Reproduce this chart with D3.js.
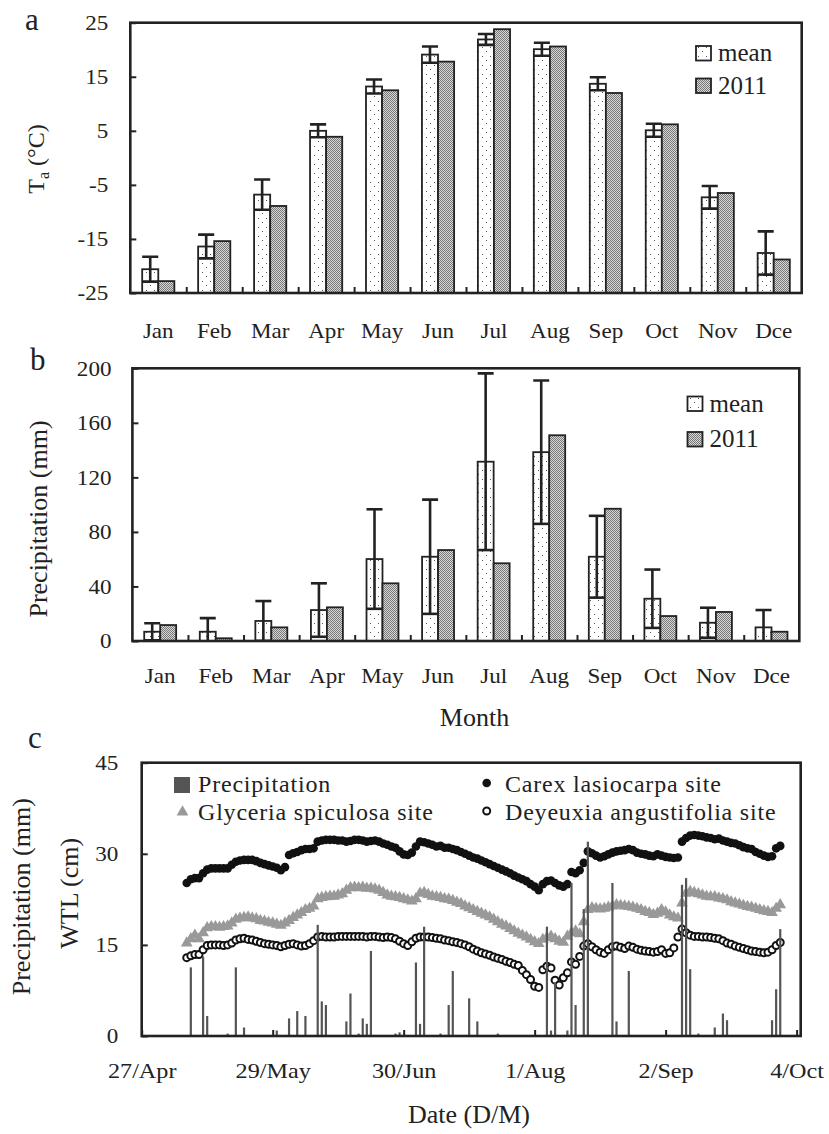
<!DOCTYPE html>
<html>
<head>
<meta charset="utf-8">
<script src="https://cdn.jsdelivr.net/npm/d3@7"></script>
<style>
  body { margin: 0; background: #fff; }
  svg text { font-family: "Liberation Serif", "DejaVu Serif", serif; }
</style>
</head>
<body>
<svg width="829" height="1134"></svg>
<script>
// ---- panel a / b : monthly values ----
const months = ["Jan", "Feb", "Mar", "Apr", "May", "Jun", "Jul", "Aug", "Sep", "Oct", "Nov", "Dce"];
const seriesNames = ["mean", "2011"];

const tempMean = [-20.6, -16.4, -6.8, 5.0, 13.2, 19.1, 21.9, 20.1, 13.7, 5.1, -7.3, -17.6];
const tempErr = [2.3, 2.2, 2.8, 1.2, 1.3, 1.5, 1.0, 1.2, 1.2, 1.2, 2.1, 4.0];
const temp2011 = [-22.8, -15.4, -8.9, 3.9, 12.5, 17.8, 23.8, 20.6, 12.0, 6.2, -6.5, -18.8];
const tempTicks = [-25, -15, -5, 5, 15, 25];

const precMean = [6.8, 6.8, 14.7, 22.7, 60.1, 61.8, 131.5, 138.5, 61.8, 31.0, 13.4, 10.0];
const precErr = [6.2, 10.0, 14.6, 19.6, 36.5, 41.9, 64.8, 52.6, 30.0, 21.4, 11.0, 12.7];
const prec2011 = [11.7, 2.0, 10.0, 24.7, 42.3, 66.7, 57.0, 150.9, 97.0, 18.3, 21.3, 6.8];
const precTicks = [0, 40, 80, 120, 160, 200];

// ---- panel c : daily water table level (cm), one value per day from wtlStart ----
const wtlStart = "2011-05-08";
const carex = [
  25.2, 25.8, 26.0, 26.0, 26.8, 27.4, 27.6, 27.6, 27.6, 27.6,
  27.6, 28.2, 28.7, 28.9, 29.0, 29.0, 29.0, 28.8, 28.5, 28.3,
  28.1, 27.9, 27.7, 27.3, 27.8, 29.8, 30.1, 30.3, 30.6, 30.8,
  30.8, 30.9, 32.0, 32.2, 32.3, 32.3, 32.3, 32.2, 32.2, 32.0,
  32.1, 32.3, 32.3, 32.2, 32.0, 32.1, 32.2, 32.0, 31.7, 31.5,
  31.2, 31.0, 30.4, 29.9, 29.8, 30.2, 31.2, 32.0, 31.9, 31.7,
  31.5, 31.2, 31.3, 31.0, 31.0, 30.8, 30.6, 30.3, 30.0, 29.7,
  29.4, 29.2, 28.9, 28.6, 28.3, 28.0, 27.7, 27.4, 27.1, 26.8,
  26.4, 26.1, 25.8, 25.5, 25.0, 24.6, 24.0, 25.0, 25.5, 25.6,
  25.2, 24.8, 24.6, 25.0, 27.0, 26.8, 27.3, 28.5, 30.4, 30.1,
  29.7, 29.4, 29.6, 29.9, 30.2, 30.4, 30.5, 30.6, 30.8, 30.6,
  30.2, 30.0, 29.9, 29.7, 29.6, 29.9, 29.7, 29.5, 29.4, 29.3,
  29.4, 32.0, 32.6, 33.0, 33.1, 33.0, 32.9, 32.7, 32.6, 32.4,
  32.5, 32.2, 32.0, 31.8, 31.7, 31.4, 31.1, 30.9, 30.8, 30.3,
  30.0, 29.7, 29.5, 29.6, 30.9, 31.3
];
const glyceria = [
  15.3, 16.0, 16.6, 16.0, 17.0, 17.8, 18.0, 18.0, 17.9, 18.0,
  18.1, 18.6, 19.2, 19.4, 19.5, 19.6, 19.4, 19.3, 19.0, 18.9,
  18.7, 18.6, 18.4, 18.2, 18.6, 19.0, 19.5, 19.9, 20.3, 20.8,
  21.0, 21.4, 22.6, 22.8, 22.9, 23.0, 23.0, 23.2, 23.4, 24.0,
  24.4, 24.5, 24.4, 24.5, 24.3, 24.3, 24.2, 24.0, 23.6, 23.2,
  23.0, 22.9, 22.8, 22.6, 22.4, 22.2, 22.6, 23.5, 23.6, 23.3,
  23.0, 22.9, 22.8, 22.6, 22.5, 22.3, 22.0, 21.8, 21.4, 21.1,
  20.8, 20.5, 20.2, 19.9, 19.6, 19.2, 18.8, 18.4, 18.1, 17.7,
  17.3, 16.9, 16.6, 16.3, 15.9, 15.5, 15.2, 15.9, 16.2, 16.4,
  16.0, 15.6, 15.4, 16.4, 17.0, 17.3, 16.8, 18.8, 20.8, 21.1,
  21.0, 20.9, 21.0, 21.2, 21.4, 21.6, 21.5, 21.4, 21.3, 21.2,
  21.0, 20.8, 20.5, 20.3, 20.0, 20.2, 20.8, 20.4, 19.9, 19.6,
  19.4, 21.9, 23.5, 23.8, 23.6, 23.4, 23.2, 23.0, 22.9, 22.9,
  22.7, 22.6, 22.4, 22.1, 21.9, 21.7, 21.5, 21.3, 21.2, 21.0,
  20.8, 20.6, 20.5, 20.3, 21.0, 21.6
];
const deyeuxia = [
  12.9, 13.2, 13.4, 13.4, 14.2, 14.9, 15.0, 15.0, 15.0, 14.9,
  15.0, 15.3, 15.8, 16.0, 16.1, 15.9, 15.8, 15.6, 15.4, 15.2,
  15.1, 15.0, 14.9, 14.7, 14.9, 15.1, 15.2, 15.0, 14.8, 14.9,
  15.2, 15.7, 16.3, 16.4, 16.3, 16.3, 16.3, 16.4, 16.4, 16.4,
  16.4, 16.4, 16.4, 16.4, 16.3, 16.4, 16.4, 16.3, 16.2, 16.3,
  16.2, 16.0, 15.6, 15.2, 14.9, 15.5, 16.1, 16.3, 16.3, 16.3,
  16.2, 16.1, 16.0, 15.8, 15.7, 15.5, 15.4, 15.2, 15.0, 14.7,
  14.3, 14.0, 13.7, 13.5, 13.3, 13.0, 12.8, 12.6, 12.3, 12.1,
  11.8, 11.6, 10.8, 10.1, 9.3, 8.2, 8.0, 10.9, 11.5, 11.2,
  9.2, 8.4, 9.6, 10.4, 12.2, 11.8, 13.1, 14.8, 15.2, 14.7,
  14.2, 13.8, 13.6, 14.2, 14.7, 14.8, 14.6, 14.4, 14.8, 14.6,
  14.3, 14.1, 14.0, 13.9, 13.8, 13.9, 14.2, 13.6, 13.7, 14.5,
  16.3, 17.6, 17.0, 16.6, 16.4, 16.4, 16.3, 16.3, 16.2, 16.1,
  16.0, 15.7, 15.3, 15.1, 14.8, 14.6, 14.4, 14.2, 14.0, 13.9,
  13.8, 13.7, 13.8, 14.2, 14.9, 15.4
];

// daily precipitation (mm), rain days only
const rainDates = [
  "2011-05-09", "2011-05-12", "2011-05-13", "2011-05-18", "2011-05-20", "2011-05-22", "2011-05-30",
  "2011-06-02", "2011-06-04", "2011-06-06", "2011-06-09", "2011-06-10", "2011-06-11", "2011-06-16",
  "2011-06-17", "2011-06-19", "2011-06-20", "2011-06-21", "2011-06-22", "2011-06-28", "2011-06-29",
  "2011-07-03", "2011-07-04", "2011-07-05", "2011-07-09", "2011-07-11", "2011-07-12", "2011-07-16",
  "2011-07-18", "2011-07-23", "2011-08-04", "2011-08-05", "2011-08-06", "2011-08-09", "2011-08-10",
  "2011-08-11", "2011-08-13", "2011-08-14", "2011-08-20", "2011-08-21", "2011-08-24", "2011-09-06",
  "2011-09-07", "2011-09-08", "2011-09-10", "2011-09-14", "2011-09-16", "2011-09-17", "2011-09-28",
  "2011-09-29", "2011-09-30"
];
const rainMm = [
  11.3, 13.1, 3.3, 0.4, 11.3, 1.4, 0.9,
  2.9, 4.1, 3.3, 18.3, 5.7, 5.1, 2.4,
  7.0, 0.4, 2.9, 2.0, 14.0, 0.4, 0.6,
  12.1, 2.0, 18.0, 0.4, 5.1, 10.7, 6.2,
  2.4, 0.4, 18.0, 0.9, 8.8, 0.9, 25.2,
  5.1, 20.9, 32.0, 25.2, 2.4, 10.7, 24.9,
  26.0, 11.0, 0.4, 1.4, 3.7, 2.6, 2.6,
  7.7, 17.6
];
const dateTicks = ["2011-04-27", "2011-05-29", "2011-06-30", "2011-08-01", "2011-09-02", "2011-10-04"];
const wtlTicks = [0, 15, 30, 45];
const legendC = ["Precipitation", "Glyceria spiculosa site", "Carex lasiocarpa site", "Deyeuxia angustifolia site"];

// ---------------------------------------------------------------
const FONT = '"Liberation Serif", "DejaVu Serif", serif';
const INK = "#222";
const svg = d3.select("svg");
const defs = svg.append("defs");

// fills: sparse dots for the mean, fine grey stipple for 2011
const pMean = defs.append("pattern").attr("id", "dotsMean")
  .attr("patternUnits", "userSpaceOnUse").attr("width", 8).attr("height", 9);
pMean.append("rect").attr("width", 8).attr("height", 9).attr("fill", "#fff");
pMean.append("rect").attr("x", 2).attr("y", 2).attr("width", 1).attr("height", 1).attr("fill", "#555");
pMean.append("rect").attr("x", 6).attr("y", 6).attr("width", 1).attr("height", 1).attr("fill", "#555");
const p11 = defs.append("pattern").attr("id", "grey2011")
  .attr("patternUnits", "userSpaceOnUse").attr("width", 2).attr("height", 2);
p11.append("rect").attr("width", 2).attr("height", 2).attr("fill", "#d8d8d8");
p11.append("rect").attr("width", 1).attr("height", 1).attr("fill", "#777");
p11.append("rect").attr("x", 1).attr("y", 1).attr("width", 1).attr("height", 1).attr("fill", "#777");
const fills = ["url(#dotsMean)", "url(#grey2011)"];

function styleAxis(sel, size) {
  sel.select(".domain").remove();
  sel.attr("font-family", FONT).attr("font-size", size);
  sel.selectAll("line").attr("stroke", INK).attr("stroke-width", 2);
  sel.selectAll("text").attr("fill", INK).attr("transform", "scale(1.1,1)");
}

function text(x, y, str, size, anchor) {
  return svg.append("text").attr("x", x).attr("y", y).text(str)
    .attr("font-family", FONT).attr("font-size", size).attr("fill", INK)
    .attr("text-anchor", anchor || "start");
}

function monthPanel(o) {
  const x = d3.scaleBand().domain(months).range([o.left, o.right]);
  const xEdge = d3.scaleLinear().domain([0, months.length]).range([o.left, o.right]);
  const y = d3.scaleLinear().domain(o.domain).range([o.bottom, o.top]);
  const group = x.bandwidth() * 0.575, bw = group / 2, off = (x.bandwidth() - group) / 2;
  const g = svg.append("g");

  defs.append("clipPath").attr("id", o.id + "Clip").append("rect")
    .attr("x", o.left).attr("y", o.top).attr("width", o.right - o.left).attr("height", o.bottom - o.top);

  [o.mean, o.y2011].forEach((vals, s) => {
    g.append("g").selectAll("rect").data(vals).join("rect")
      .attr("x", (d, i) => x(months[i]) + off + s * bw)
      .attr("y", d => y(d))
      .attr("width", bw)
      .attr("height", d => y(o.domain[0]) - y(d))
      .attr("fill", fills[s]).attr("stroke", INK).attr("stroke-width", 1.8);
  });

  // error bars on the mean
  const eb = g.append("g").attr("clip-path", `url(#${o.id}Clip)`)
    .attr("stroke", INK).attr("stroke-width", 2.6).selectAll("g").data(o.mean).join("g");
  const cx = (i) => x(months[i]) + off + bw / 2;
  eb.append("line").attr("x1", (d, i) => cx(i)).attr("x2", (d, i) => cx(i))
    .attr("y1", (d, i) => y(d + o.err[i])).attr("y2", (d, i) => y(d - o.err[i]));
  [1, -1].forEach(sgn => {
    eb.append("line").attr("x1", (d, i) => cx(i) - bw / 2).attr("x2", (d, i) => cx(i) + bw / 2)
      .attr("y1", (d, i) => y(d + sgn * o.err[i])).attr("y2", (d, i) => y(d + sgn * o.err[i]));
  });

  g.append("g").attr("transform", `translate(${o.left},0)`)
    .call(d3.axisLeft(y).tickValues(o.ticks).tickSizeInner(-6).tickSizeOuter(0)
      .tickPadding(o.yPad).tickFormat(d => String(d)))
    .call(s => styleAxis(s, 21));
  g.append("g").attr("transform", `translate(0,${o.bottom})`)
    .call(d3.axisBottom(xEdge).tickValues(d3.range(1, months.length)).tickSizeInner(-6).tickSizeOuter(0).tickFormat(""))
    .call(s => styleAxis(s, 21));
  g.append("g").attr("transform", `translate(0,${o.labelY})`)
    .call(d3.axisBottom(x).tickSize(0).tickPadding(0))
    .call(s => { styleAxis(s, 21); s.selectAll("text").attr("dy", null); });

  g.append("rect").attr("x", o.left).attr("y", o.top).attr("width", o.right - o.left).attr("height", o.bottom - o.top)
    .attr("fill", "none").attr("stroke", INK).attr("stroke-width", 2.6);

  seriesNames.forEach((name, s) => {
    g.append("rect").attr("x", o.lx).attr("y", o.ly[s]).attr("width", 15).attr("height", 14.5)
      .attr("fill", fills[s]).attr("stroke", INK).attr("stroke-width", 1.8);
    text(o.lx + 22, o.ly[s] + 15, name, 25);
  });
}

monthPanel({
  id: "a", left: 130.3, right: 801.7, top: 22.7, bottom: 293, domain: [-25, 25], ticks: tempTicks,
  mean: tempMean, err: tempErr, y2011: temp2011, yPad: 20, labelY: 337.5, lx: 696, ly: [46, 78.5]
});
monthPanel({
  id: "b", left: 132.4, right: 799.3, top: 368.3, bottom: 641, domain: [0, 200], ticks: precTicks,
  mean: precMean, err: precErr, y2011: prec2011, yPad: 19, labelY: 683, lx: 687.5, ly: [396.5, 432]
});

// axis titles and panel letters for a / b
const ta = svg.append("text").attr("transform", "translate(44,159) rotate(-90)")
  .attr("font-family", FONT).attr("font-size", 24).attr("fill", INK).attr("text-anchor", "middle");
ta.append("tspan").text("T");
ta.append("tspan").attr("font-size", 16).attr("dy", 5).text("a");
ta.append("tspan").attr("dy", -5).text(" (\u00B0C)");
svg.append("text").attr("transform", "translate(47,519) rotate(-90)").attr("text-anchor", "middle")
  .attr("font-family", FONT).attr("font-size", 26).attr("fill", INK).text("Precipitation (mm)");
text(474.5, 726, "Month", 26, "middle");
text(25, 29.5, "a", 31);
text(30, 370, "b", 31);
text(28, 748, "c", 31);

// ---- panel c ----
const parse = d3.timeParse("%Y-%m-%d");
const C = { left: 141.7, right: 800.7, top: 762.7, bottom: 1036 };
const xT = d3.scaleTime().domain([parse("2011-04-27"), parse("2011-10-05")]).range([C.left, C.right]);
const yW = d3.scaleLinear().domain([0, 45]).range([C.bottom, C.top]);
const start = parse(wtlStart);
const day = i => d3.timeDay.offset(start, i);
const gc = svg.append("g");

const triangle = d3.symbol(d3.symbolTriangle, 60)();
gc.append("g").selectAll("path").data(glyceria).join("path")
  .attr("d", triangle).attr("fill", "#999")
  .attr("transform", (d, i) => `translate(${xT(day(i))},${yW(d)})`);
gc.append("g").selectAll("circle").data(deyeuxia).join("circle")
  .attr("cx", (d, i) => xT(day(i))).attr("cy", d => yW(d)).attr("r", 3.5)
  .attr("fill", "#fff").attr("stroke", "#111").attr("stroke-width", 2);
gc.append("g").selectAll("circle").data(carex).join("circle")
  .attr("cx", (d, i) => xT(day(i))).attr("cy", d => yW(d)).attr("r", 4.3).attr("fill", "#111");
gc.append("g").selectAll("rect").data(rainMm).join("rect")
  .attr("x", (d, i) => xT(parse(rainDates[i])) - 1.1).attr("width", 2.2)
  .attr("y", d => yW(d)).attr("height", d => yW(0) - yW(d)).attr("fill", "#555");

gc.append("g").attr("transform", `translate(${C.left},0)`)
  .call(d3.axisLeft(yW).tickValues(wtlTicks).tickSizeInner(-6).tickSizeOuter(0).tickPadding(21.3))
  .call(s => styleAxis(s, 21));
gc.append("g").attr("transform", `translate(0,${C.bottom})`)
  .call(d3.axisBottom(xT).tickValues(dateTicks.map(parse)).tickSizeInner(-6).tickSizeOuter(0)
    .tickPadding(0).tickFormat(d3.timeFormat("%-d/%b")))
  .call(s => { styleAxis(s, 22); s.selectAll("text").attr("y", 42.3).attr("dy", null); });
gc.append("rect").attr("x", C.left).attr("y", C.top).attr("width", C.right - C.left).attr("height", C.bottom - C.top)
  .attr("fill", "none").attr("stroke", INK).attr("stroke-width", 2.6);

// legend c
gc.append("rect").attr("x", 174).attr("y", 777).attr("width", 16).attr("height", 16).attr("fill", "#555");
gc.append("path").attr("d", triangle).attr("fill", "#999").attr("transform", "translate(182.5,812)");
gc.append("circle").attr("cx", 486.7).attr("cy", 783).attr("r", 4.3).attr("fill", "#111");
gc.append("circle").attr("cx", 486.7).attr("cy", 811).attr("r", 3.5).attr("fill", "#fff")
  .attr("stroke", "#111").attr("stroke-width", 2);
[[198, 792], [198, 820], [505, 792], [505, 820]].forEach((p, i) => {
  text(p[0], p[1], legendC[i], 24).attr("letter-spacing", 0.8);
});

svg.append("text").attr("transform", "translate(30,896.7) rotate(-90)").attr("text-anchor", "middle")
  .attr("font-family", FONT).attr("font-size", 26).attr("fill", INK).text("Precipitation (mm)");
svg.append("text").attr("transform", "translate(78,893.3) rotate(-90)").attr("text-anchor", "middle")
  .attr("font-family", FONT).attr("font-size", 26).attr("fill", INK).text("WTL (cm)");
text(469, 1123, "Date (D/M)", 26, "middle");
</script>
</body>
</html>
